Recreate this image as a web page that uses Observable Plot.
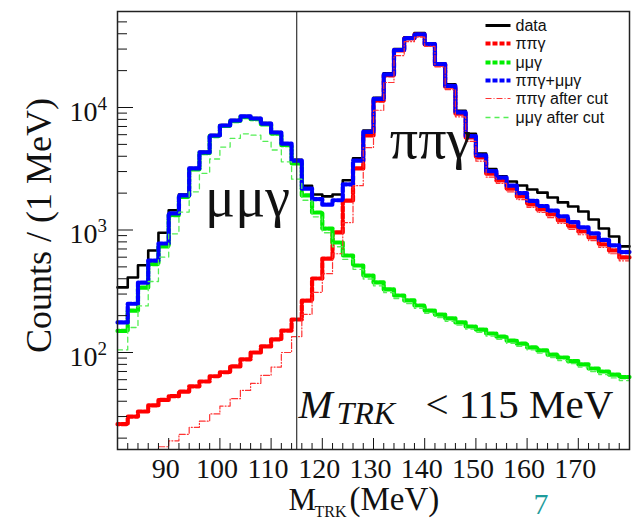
<!DOCTYPE html>
<html><head><meta charset="utf-8">
<script src="https://cdn.jsdelivr.net/npm/d3@7"></script>
<script src="https://cdn.jsdelivr.net/npm/@observablehq/plot@0.6"></script>
<style>html,body{margin:0;padding:0;background:#fff}#chart{width:633px;height:518px}</style>
</head><body><div id="chart"></div>
<script>
// bin edges (MeV), 2 MeV wide
const binEdges = [80,82,84,86,88,90,92,94,96,98,100,102,104,106,108,110,112,114,116,118,120,122,124,126,128,130,132,134,136,138,140,142,144,146,148,150,152,154,156,158,160,162,164,166,168,170,172,174,176,178,180];

const dataCounts = [340,410,515,680,950,1450,1950,3200,4350,5950,7200,7900,8500,8200,7450,6300,5100,3750,2300,1950,1880,1950,2550,3850,6500,12000,19000,30000,37500,40500,33500,23000,15500,9400,6100,4200,3150,2750,2490,2310,2140,2020,1840,1680,1555,1415,1220,1030,885,735];
const pipigamma = [26,30,33,37,41,44,48,53,58,64,69,77,88,100,112,128,151,186,265,402,585,955,1740,3180,5910,11400,18300,29200,36600,39400,32700,22400,14800,8930,5690,3910,2890,2540,2180,1880,1620,1470,1340,1200,1070,972,869,762,681,597];
const mumugamma = [150,220,339,526,735,1321,1866,3127,4242,5846,7061,7753,8362,8030,7288,6122,4929,3504,1914,1390,1028,791,619,513,425,373,327,292,266,242,220,204,190,176,163,154,143,135,125,118,110,104,96,91,85,80,74,70,66,63];
const sumCounts = [176,250,372,563,776,1365,1914,3180,4300,5910,7130,7830,8450,8130,7400,6250,5080,3690,2180,1790,1610,1750,2360,3690,6330,11770,18630,29490,36870,39640,32920,22600,14990,9110,5850,4060,3030,2680,2300,2000,1730,1570,1440,1290,1160,1050,940,830,750,660];
const pipigammaCut = [10,11,13,15,17,19,21.5,24.5,27.5,31.5,36.5,42,49,56,65,76,100,135,205,310,440,640,1150,2300,4700,9500,16000,26500,34500,37500,31500,21500,14000,8400,5300,3650,2700,2400,2050,1770,1530,1390,1260,1130,1010,915,820,720,640,560];
const mumugammaCut = [105,160,240,380,600,930,1400,2050,2900,3800,4750,5600,6100,5950,5300,4500,3600,2600,1750,1280,950,730,575,478,398,350,308,276,251,229,209,193,180,167,155,146,136,128,119,112,105,99,91,86,81,76,70,66,62,59];

const xTickLabels = [90,100,110,120,130,140,150,160,170];
const xMinorTicks = [82,84,86,88,92,94,96,98,102,104,106,108,112,114,116,118,122,124,126,128,132,134,136,138,142,144,146,148,152,154,156,158,162,164,166,168,172,174,176,178];
const yTickLabels = [100,1000,10000];
const yMinorTicks = [20,30,40,50,60,70,80,90,200,300,400,500,600,700,800,900,2000,3000,4000,5000,6000,7000,8000,9000,20000,30000,40000,50000];
const cutValue = 115;

const legendLabels = ["data","ππγ","μμγ","ππγ+μμγ","ππγ after cut","μμγ after cut"];

const W = 633, H = 518, mL = 117, mR = 4, mT = 11, mB = 69;
const innerW = W - mL - mR, innerH = H - mT - mB;
const xDomain = [80, 180], yDomain = [16.15, 60780];
const xs = Plot.scale({x: {domain: xDomain, range: [mL, W - mR]}});
const ys = Plot.scale({y: {type: "log", domain: yDomain, range: [H - mB, mT]}});

function hist(values) {
  const rows = values.map((v, i) => ({x: binEdges[i], y: v}));
  rows.push({x: binEdges[values.length], y: values[values.length - 1]});
  return rows;
}

const serif = "Liberation Serif";
const sans = "Liberation Sans";
const thick = {curve: "step-after", strokeWidth: 4.2, strokeDasharray: "5,2"};

const styles = [
  {stroke: "black", strokeWidth: 3},
  {stroke: "#ff0000", strokeWidth: 4.2, strokeDasharray: "5,2"},
  {stroke: "#00ee00", strokeWidth: 4.2, strokeDasharray: "5,2"},
  {stroke: "#0000ff", strokeWidth: 4.2, strokeDasharray: "5,2"},
  {stroke: "#ff3333", strokeWidth: 1.2, strokeDasharray: "6,2,1,2"},
  {stroke: "#55ee55", strokeWidth: 1.3, strokeDasharray: "5,4"}
];
const legendPy = [25, 43, 62, 80, 98, 117];

const legendMarks = [];
legendLabels.forEach((lab, i) => {
  legendMarks.push(Plot.link([lab], {
    x1: () => xs.invert(485), x2: () => xs.invert(510),
    y1: () => ys.invert(legendPy[i]), y2: () => ys.invert(legendPy[i]),
    ...styles[i]
  }));
  legendMarks.push(Plot.text([lab], {
    x: () => xs.invert(515), y: () => ys.invert(legendPy[i]),
    text: d => d, textAnchor: "start", fontSize: 16, fontFamily: sans, fill: "#111"
  }));
});

const chart = Plot.plot({
  width: W, height: H,
  marginLeft: mL, marginRight: mR, marginTop: mT, marginBottom: mB,
  style: {background: "white", overflow: "visible"},
  x: {domain: xDomain, axis: null},
  y: {type: "log", domain: yDomain, axis: null, clamp: true},
  marks: [
    // histograms
    Plot.line(hist(dataCounts), {x: "x", y: "y", curve: "step-after", stroke: "black", strokeWidth: 2.6}),
    Plot.line(hist(pipigamma), {x: "x", y: "y", ...thick, stroke: "#ff0000", strokeDashoffset: 3}),
    Plot.line(hist(mumugamma), {x: "x", y: "y", ...thick, stroke: "#00ee00", strokeDashoffset: 3}),
    Plot.line(hist(sumCounts), {x: "x", y: "y", ...thick, stroke: "#0000ff"}),
    Plot.line(hist(pipigammaCut), {x: "x", y: "y", curve: "step-after", stroke: "#ff3333", strokeWidth: 1.2, strokeDasharray: "6,2,1,2"}),
    Plot.line(hist(mumugammaCut), {x: "x", y: "y", curve: "step-after", stroke: "#55ee55", strokeWidth: 1.3, strokeDasharray: "5,4"}),
    // cut line
    Plot.ruleX([cutValue], {stroke: "#333", strokeWidth: 1.2}),
    // ticks (inside, ROOT style)
    Plot.ruleX(xMinorTicks, {insetTop: innerH - 6, stroke: "#111", strokeWidth: 1}),
    Plot.ruleX(xTickLabels, {insetTop: innerH - 11, stroke: "#111", strokeWidth: 1}),
    Plot.ruleY(yMinorTicks, {insetRight: innerW - 10, stroke: "#111", strokeWidth: 1}),
    Plot.ruleY(yTickLabels, {insetRight: innerW - 16, stroke: "#111", strokeWidth: 1}),
    Plot.frame({stroke: "#222", strokeWidth: 1.5}),
    // tick labels
    Plot.text(xTickLabels, {x: d => d, frameAnchor: "bottom", text: d => String(d), dy: 28, dx: -3, textAnchor: "middle", lineAnchor: "bottom", fontSize: 28, fontFamily: serif, fill: "#111"}),
    Plot.text(yTickLabels, {y: d => d, frameAnchor: "left", text: () => "10", dx: -20, dy: 13, textAnchor: "end", lineAnchor: "bottom", fontSize: 28, fontFamily: serif, fill: "#111"}),
    Plot.text(yTickLabels, {y: d => d, frameAnchor: "left", text: d => String(Math.round(Math.log10(d))), dx: -20, dy: 2, textAnchor: "start", lineAnchor: "bottom", fontSize: 19, fontFamily: serif, fill: "#111"}),
    // axis titles
    Plot.text(["Counts / (1 MeV)"], {frameAnchor: "left", dx: -78, dy: -5, rotate: -90, textAnchor: "middle", lineAnchor: "middle", text: d => d, fontSize: 36, fontFamily: serif, fill: "#111"}),
    Plot.text(["M"], {frameAnchor: "bottom-left", dx: 171, dy: 60, text: d => d, textAnchor: "start", lineAnchor: "bottom", fontSize: 31, fontFamily: serif, fill: "#111"}),
    Plot.text(["TRK"], {frameAnchor: "bottom-left", dx: 197, dy: 67, text: d => d, textAnchor: "start", lineAnchor: "bottom", fontSize: 16, fontFamily: serif, fill: "#111"}),
    Plot.text(["(MeV)"], {frameAnchor: "bottom-left", dx: 232, dy: 60, text: d => d, textAnchor: "start", lineAnchor: "bottom", fontSize: 33, fontFamily: serif, fill: "#111"}),
    Plot.text(["7"], {frameAnchor: "bottom-left", dx: 416, dy: 64, text: d => d, textAnchor: "start", lineAnchor: "bottom", fontSize: 30, fontFamily: serif, fill: "#1e9c9c"}),
    // annotations
    Plot.text(["μμγ"], {x: () => xs.invert(247), y: () => ys.invert(215), text: d => d, lineAnchor: "bottom", fontSize: 56, fontFamily: serif, fill: "#111"}),
    Plot.text(["ππγ"], {x: () => xs.invert(430), y: () => ys.invert(157), text: d => d, lineAnchor: "bottom", fontSize: 56, fontFamily: serif, fill: "#111"}),
    Plot.text(["M"], {x: () => xs.invert(298), y: () => ys.invert(417), text: d => d, textAnchor: "start", lineAnchor: "bottom", fontSize: 41, fontStyle: "italic", fontFamily: serif, fill: "#111"}),
    Plot.text(["TRK"], {x: () => xs.invert(336), y: () => ys.invert(423), text: d => d, textAnchor: "start", lineAnchor: "bottom", fontSize: 32, fontStyle: "italic", fontFamily: serif, fill: "#111"}),
    Plot.text(["< 115 MeV"], {x: () => xs.invert(425), y: () => ys.invert(417), text: d => d, textAnchor: "start", lineAnchor: "bottom", fontSize: 41, fontFamily: serif, fill: "#111"}),
    ...legendMarks
  ]
});
document.getElementById("chart").append(chart);
</script>
</body></html>
